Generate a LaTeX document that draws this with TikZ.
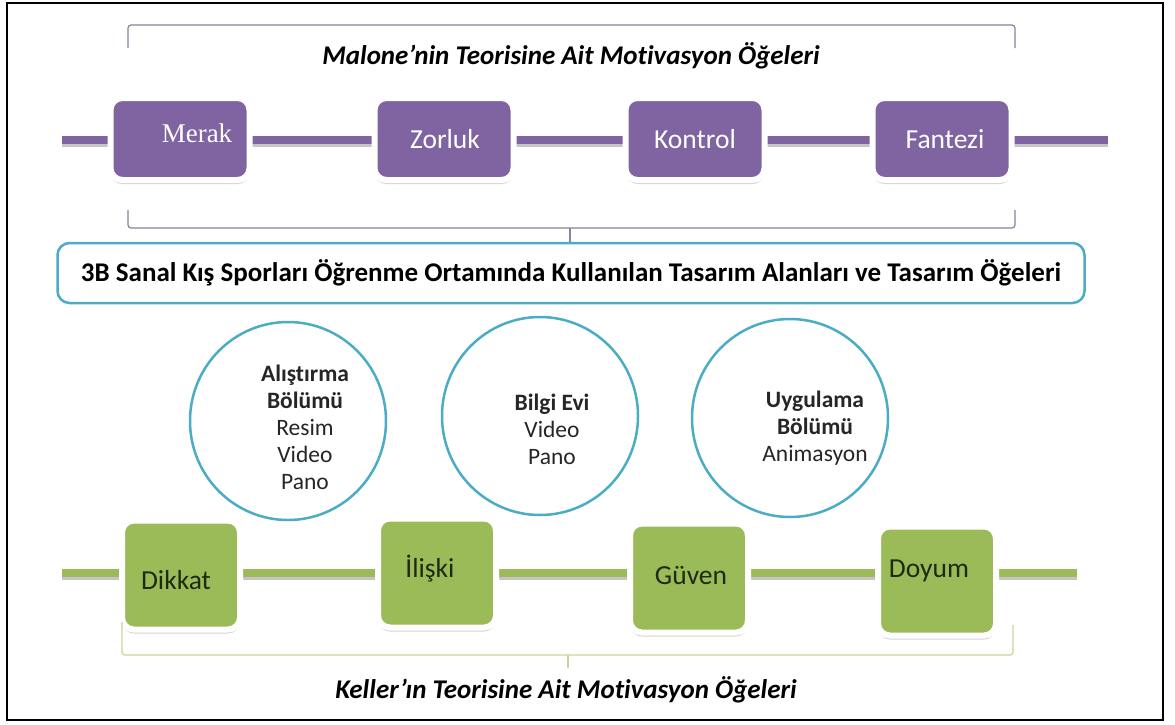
\documentclass[tikz,border=0pt]{standalone}
\usepackage{fontspec}
\setmainfont{Carlito}[Ligatures=NoCommon]
\newfontfamily\serifcam{Liberation Serif}
\usetikzlibrary{shadows,shapes.geometric}
\definecolor{purp}{HTML}{8064A2}
\definecolor{grn}{HTML}{9BBB59}
\definecolor{teal}{HTML}{4BACC6}
\definecolor{pbr}{HTML}{8A80A0}
\definecolor{gbr}{HTML}{C3D69B}
\definecolor{dtext}{HTML}{1E2A10}
\tikzset{
  x=1pt, y=-1pt,
  rimbox/.style={draw=white, line width=6pt, rounded corners=12pt,
    drop shadow={shadow xshift=0pt, shadow yshift=-4pt, opacity=0.35, fill=gray}},
  pbox/.style={rimbox, fill=purp, minimum width=139pt, minimum height=82pt},
  gbox/.style={rimbox, fill=grn, minimum width=118pt, minimum height=109pt},
  ptext/.style={text=white, font=\fontsize{27.5}{30}\selectfont},
  gtext/.style={text=dtext, font=\fontsize{27.5}{30}\selectfont},
  circ/.style={ellipse, draw=teal, line width=2.5pt, minimum width=196pt, minimum height=198pt},
  ctext/.style={align=center, text=black!85, font=\fontsize{23.5}{27}\selectfont},
  ttl/.style={font=\bfseries\itshape\fontsize{27}{30}\selectfont},
  pline/.style={purp, line width=8pt},
  gline/.style={grn, line width=8pt},
  lshadow/.style={gray, opacity=0.45, line width=8pt},
  brk/.style={line width=1.2pt, rounded corners=3pt},
}
\begin{document}
\begin{tikzpicture}
\useasboundingbox (0,0) rectangle (1175,724);
\fill[white] (0,0) rectangle (1175,724);
\draw[black, line width=2pt] (7,3) rectangle (1163,720);

% top bracket and title
\coordinate (tb1) at (128,48);
\coordinate (tb2) at (1015,48);
\draw[brk, pbr] (tb1) -- (128,25) -- (1015,25) -- (tb2);
\node[ttl] (malone) at (571,56) {Malone’nin Teorisine Ait Motivasyon Öğeleri};

% purple line
\coordinate (pl) at (62,140);
\coordinate (pr) at (1108,140);
\draw[lshadow] ([yshift=-3pt]pl) -- ([yshift=-3pt]pr);
\draw[pline] (pl) -- (pr);

\node[pbox] (merak) at (180,139) {};
\node[pbox] (zorluk) at (444,139) {};
\node[pbox] (kontrol) at (695,139) {};
\node[pbox] (fantezi) at (942,139) {};
\node[ptext, font=\serifcam\fontsize{27}{30}\selectfont] (tmerak) at (197,133) {Merak};
\node[ptext] (tzorluk) at (445,139) {Zorluk};
\node[ptext] (tkontrol) at (695,139) {Kontrol};
\node[ptext] (tfantezi) at (945,139) {Fantezi};

% bracket below purple
\coordinate (mb) at (570,228);
\draw[brk, pbr] (128,210) -- (128,228) -- (1015,228) -- (1015,210);

% header
\node[draw=teal, line width=2.5pt, rounded corners=12pt, minimum width=1027pt, minimum height=60pt,
  font=\bfseries\fontsize{27}{30}\selectfont] (hdr) at (571,273)
  {3B Sanal Kış Sporları Öğrenme Ortamında Kullanılan Tasarım Alanları ve Tasarım Öğeleri};
\draw[brk, pbr] (mb) -- (hdr.north -| mb);

% green line
\coordinate (gl) at (62,573);
\coordinate (gr) at (1077,573);
\draw[lshadow] ([yshift=-3pt]gl) -- ([yshift=-3pt]gr);
\draw[gline] (gl) -- (gr);

% circles
\node[circ] (c1) at (288,421) {};
\node[circ] (c2) at (540,416) {};
\node[circ] (c3) at (790,418) {};
\node[ctext] (t1) at (305,427) {\textbf{Alıştırma}\\\textbf{Bölümü}\\Resim\\Video\\Pano};
\node[ctext] (t2) at (552,429) {\textbf{Bilgi Evi}\\Video\\Pano};
\node[ctext] (t3) at (815,428) {\textbf{Uygulama}\\\textbf{Bölümü}\\Animasyon};

% green boxes
\node[gbox] (dikkat) at (181,575) {};
\node[gbox] (iliski) at (437,573) {};
\node[gbox] (guven) at (689,578) {};
\node[gbox] (doyum) at (937,581) {};
\node[gtext] (tdikkat) at (176,580) {Dikkat};
\node[gtext] (tiliski) at (430,569) {İlişki};
\node[gtext] (tguven) at (691,575) {Güven};
\node[gtext] (tdoyum) at (929,571) {Doyum};

% bottom bracket and title
\coordinate (kb) at (568,655);
\draw[brk, gbr] (122,622) -- (122,655) -- (1013,655) -- (1013,625);
\coordinate (kt) at (568,668);
\draw[brk, gbr] (kb) -- (kt);
\node[ttl] (keller) at (566,690) {Keller’ın Teorisine Ait Motivasyon Öğeleri};
\end{tikzpicture}
\end{document}
